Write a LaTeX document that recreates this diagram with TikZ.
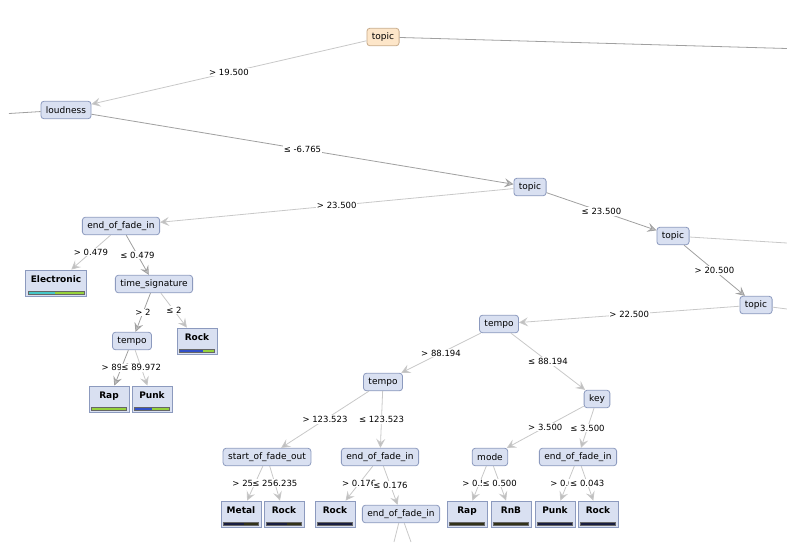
\documentclass[tikz,border=0pt]{standalone}
\usepackage{fontspec}
\setmainfont{DejaVu Sans}
\usetikzlibrary{arrows.meta,calc}
\definecolor{nodefill}{RGB}{217,224,241}
\definecolor{nodeline}{RGB}{140,154,190}
\definecolor{rootfill}{RGB}{253,230,201}
\definecolor{rootline}{RGB}{200,172,140}
\definecolor{edgelight}{RGB}{200,200,200}
\definecolor{edgedark}{RGB}{160,160,160}
\definecolor{tipfill}{RGB}{190,190,190}
\definecolor{barcyan}{RGB}{70,200,200}
\definecolor{bargreen}{RGB}{150,210,60}
\definecolor{barblue}{RGB}{50,80,200}
\definecolor{barnavy}{RGB}{25,30,65}
\definecolor{barolive}{RGB}{50,50,25}
\tikzset{lbl/.style={draw=none, fill=white, inner sep=0.8pt,
  font=\fontsize{8.5}{9}\selectfont}}

\begin{document}
\begin{tikzpicture}[x=1pt, y=-1pt,
  >={Stealth[length=9pt, width=9pt, inset=3.5pt, fill=tipfill]},
  decision/.style={rectangle, rounded corners=3pt, draw=nodeline,
    line width=0.8pt, fill=nodefill, minimum height=17.5pt,
    inner xsep=5pt, inner ysep=0pt, font=\fontsize{9}{10}\selectfont},
  leaf/.style n args={3}{rectangle, draw=nodeline, line width=0.8pt,
    fill=nodefill, minimum width=40pt, inner xsep=5pt, inner ysep=5pt,
    text height=7pt, text depth=9pt,
    font=\fontsize{9}{10}\selectfont\bfseries,
    path picture={
      \coordinate (bl) at ([shift={(2pt,2pt)}]path picture bounding box.south west);
      \coordinate (br) at ([shift={(-2.5pt,2pt)}]path picture bounding box.south east);
      \fill[#1] (bl) rectangle ($(bl)!#3!(br)+(0,3pt)$);
      \fill[#2] ($(bl)!#3!(br)$) rectangle ($(br)+(0,3pt)$);
      \draw[black!60, line width=0.4pt] (bl) rectangle ($(br)+(0,3pt)$);
    }},
  edge/.style={draw=edgelight, line width=0.8pt, ->},
  heavy/.style={draw=edgedark}]
  \useasboundingbox (0,0) rectangle (787,542);
  % inner nodes
  \node[decision, fill=rootfill, draw=rootline] (root) at (383,37) {topic};
  \node[decision] (loud)    at (66,110)  {loudness};
  \node[decision] (topicB)  at (530,187) {topic};
  \node[decision] (fadeA)   at (121,226) {end\_of\_fade\_in};
  \node[decision] (timesig) at (154,284) {time\_signature};
  \node[decision] (tempoA)  at (132,341) {tempo};
  \node[decision] (topicC)  at (673,236) {topic};
  \node[decision] (topicD)  at (756,305) {topic};
  \node[decision] (tempoB)  at (499,324) {tempo};
  \node[decision] (tempoC)  at (383,382) {tempo};
  \node[decision] (key)     at (597,399) {key};
  \node[decision] (fadeout) at (267,457) {start\_of\_fade\_out};
  \node[decision] (fadeB)   at (380,457) {end\_of\_fade\_in};
  \node[decision] (fadeC)   at (401,514) {end\_of\_fade\_in};
  \node[decision] (mode)    at (490,457) {mode};
  \node[decision] (fadeD)   at (578,457) {end\_of\_fade\_in};
  % leaves
  \node[leaf={barcyan}{bargreen}{0.48}] (elec)  at (56,283)  {Electronic};
  \node[leaf={barblue}{bargreen}{0.67}] (rockA) at (197,341) {Rock};
  \node[leaf={bargreen}{bargreen}{0.5}] (rapA)  at (109,399) {Rap};
  \node[leaf={barblue}{bargreen}{0.5}]  (punkA) at (152,399) {Punk};
  \node[leaf={barnavy}{barolive}{0.6}]  (metal) at (241,514) {Metal};
  \node[leaf={barnavy}{barolive}{0.6}]  (rockB) at (284,514) {Rock};
  \node[leaf={barnavy}{barnavy}{0.5}]   (rockC) at (335,514) {Rock};
  \node[leaf={barolive}{barolive}{0.5}] (rapB)  at (467,514) {Rap};
  \node[leaf={barolive}{barolive}{0.5}] (rnb)   at (511,514) {RnB};
  \node[leaf={barnavy}{barnavy}{0.5}]   (punkB) at (555,514) {Punk};
  \node[leaf={barnavy}{barnavy}{0.5}]   (rockD) at (598,514) {Rock};
  % branches leaving the view
  \coordinate (rootR)   at (787,48.5);
  \coordinate (loudL)   at (9,113.5);
  \coordinate (topicCR) at (787,243);
  \coordinate (topicDR) at (787,309);
  \coordinate (fadeCL)  at (394,542);
  \coordinate (fadeCR)  at (411,542);
  \draw[edgedark, line width=0.8pt] (root) -- (rootR);
  \draw[edgedark, line width=0.8pt] (loud) -- (loudL);
  \draw[edgelight, line width=0.8pt] (topicC) -- (topicCR);
  \draw[edgelight, line width=0.8pt] (topicD) -- (topicDR);
  \draw[edgelight, line width=0.8pt] (fadeC) -- (fadeCL);
  \draw[edgelight, line width=0.8pt] (fadeC) -- (fadeCR);
  % branches with split values
  \draw[edge] (root) -- node[lbl] {> 19.500} (loud);
  \draw[edge, heavy] (loud) -- node[lbl] {≤ -6.765} (topicB);
  \draw[edge] (topicB) -- node[lbl] {> 23.500} (fadeA);
  \draw[edge, heavy] (topicB) -- node[lbl] {≤ 23.500} (topicC);
  \draw[edge, heavy] (topicC) -- node[lbl] {> 20.500} (topicD);
  \draw[edge] (topicD) -- node[lbl] {> 22.500} (tempoB);
  \draw[edge] (fadeA) -- node[lbl] {> 0.479} (elec);
  \draw[edge, heavy] (fadeA) -- node[lbl] {≤ 0.479} (timesig);
  \draw[edge, heavy] (timesig) -- node[lbl] {> 2} (tempoA);
  \draw[edge] (timesig) -- node[lbl] {≤ 2} (rockA);
  \draw[edge, heavy] (tempoA) -- node[lbl] {> 89.972} (rapA);
  \draw[edge] (tempoA) -- node[lbl] {≤ 89.972} (punkA);
  \draw[edge] (tempoB) -- node[lbl] {> 88.194} (tempoC);
  \draw[edge] (tempoB) -- node[lbl] {≤ 88.194} (key);
  \draw[edge] (tempoC) -- node[lbl] {> 123.523} (fadeout);
  \draw[edge] (tempoC) -- node[lbl] {≤ 123.523} (fadeB);
  \draw[edge] (fadeout) -- node[lbl] {> 256.235} (metal);
  \draw[edge] (fadeout) -- node[lbl] {≤ 256.235} (rockB);
  \draw[edge] (fadeB) -- node[lbl] {> 0.176} (rockC);
  \draw[edge] (fadeB) -- node[lbl] {≤ 0.176} (fadeC);
  \draw[edge] (key) -- node[lbl] {> 3.500} (mode);
  \draw[edge] (key) -- node[lbl] {≤ 3.500} (fadeD);
  \draw[edge] (mode) -- node[lbl] {> 0.500} (rapB);
  \draw[edge] (mode) -- node[lbl] {≤ 0.500} (rnb);
  \draw[edge] (fadeD) -- node[lbl] {> 0.043} (punkB);
  \draw[edge] (fadeD) -- node[lbl] {≤ 0.043} (rockD);
\end{tikzpicture}
\end{document}
